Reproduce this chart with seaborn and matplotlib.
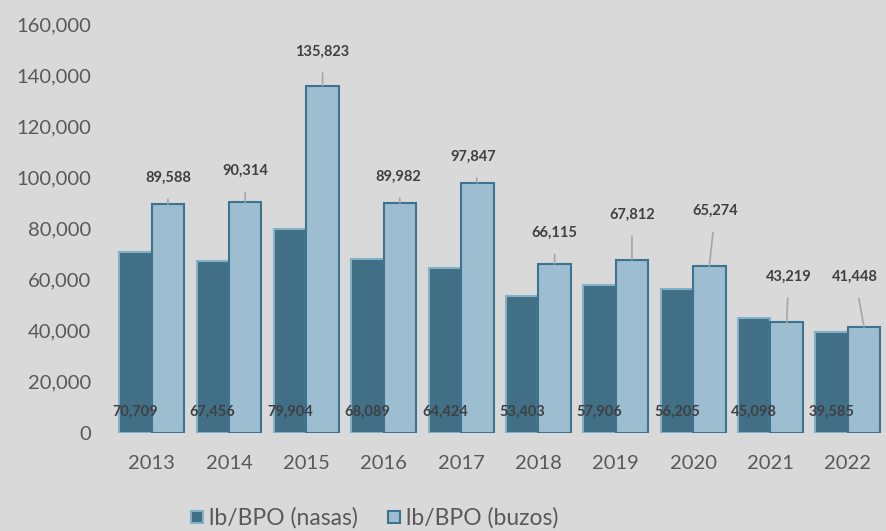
import pandas as pd
import seaborn as sns
import matplotlib.pyplot as plt
from matplotlib.lines import Line2D

years = ['2013', '2014', '2015', '2016', '2017', '2018', '2019', '2020', '2021', '2022']
nasas = [70709, 67456, 79904, 68089, 64424, 53403, 57906, 56205, 45098, 39585]
buzos = [89588, 90314, 135823, 89982, 97847, 66115, 67812, 65274, 43219, 41448]
series_names = ['lb/BPO (nasas)', 'lb/BPO (buzos)']

# label offsets (pixels) for the buzos callouts
buzos_dx = [0, 0, 0, -2, -4, 0, 0, 6, 2, -9]
buzos_dy = [26, 31, 34, 26, 26, 31, 45, 55, 46, 50]

bg = '#d9d9d9'
dark = '#416f86'
light = '#9cbed0'

df = pd.DataFrame({
    'year': years * 2,
    'value': nasas + buzos,
    'serie': [series_names[0]] * len(years) + [series_names[1]] * len(years),
})

sns.set_theme(style='white')
plt.rcParams['font.family'] = ['Lato', 'DejaVu Sans']

fig = plt.figure(figsize=(8.86, 5.31), dpi=100, facecolor=bg)
ax = fig.add_axes([0.1275, 0.1846, 0.873, 0.7704])
ax.set_facecolor(bg)

sns.barplot(data=df, x='year', y='value', hue='serie', hue_order=series_names,
            palette=[dark, light], width=0.84, saturation=1, ax=ax, legend=False)

n = len(years)
for i, p in enumerate(ax.patches[:2 * n]):
    if i < n:
        p.set_edgecolor('#82b0c6')
    else:
        p.set_edgecolor('#3d7391')
    p.set_linewidth(1.5)

# nasas labels near the bottom
for i in range(n):
    p = ax.patches[i]
    cx = p.get_x() + p.get_width() / 2
    ax.annotate(f'{nasas[i]:,}', xy=(cx, 0), xytext=(0, 21), textcoords='offset pixels',
                ha='center', va='center', fontsize=10.5, fontweight='bold', color='#404040')

# buzos labels with leader lines
for i in range(n):
    p = ax.patches[n + i]
    cx = p.get_x() + p.get_width() / 2
    ax.annotate(f'{buzos[i]:,}', xy=(cx, buzos[i]), xytext=(buzos_dx[i], buzos_dy[i]),
                textcoords='offset pixels', ha='center', va='center',
                fontsize=10.5, fontweight='bold', color='#404040',
                arrowprops=dict(arrowstyle='-', color='#a6a6a6', lw=1.2,
                                shrinkA=8, shrinkB=0))

ax.set_ylim(0, 160000)
ax.set_yticks(range(0, 160001, 20000))
ax.set_yticklabels([f'{v:,}' for v in range(0, 160001, 20000)])
ax.set_xlabel('')
ax.set_ylabel('')
ax.tick_params(axis='both', colors='#595959', labelsize=14.5, length=0)
ax.tick_params(axis='y', pad=15.5)
ax.tick_params(axis='x', pad=16)
for s in ax.spines.values():
    s.set_visible(False)

handles = [
    Line2D([], [], marker='s', linestyle='', markersize=8, markerfacecolor=dark,
           markeredgecolor='#82b0c6', markeredgewidth=1.5),
    Line2D([], [], marker='s', linestyle='', markersize=8, markerfacecolor=light,
           markeredgecolor='#3d7391', markeredgewidth=1.5),
]
leg = fig.legend(handles, series_names, loc='center', bbox_to_anchor=(0.421, 0.024),
                 ncol=2, frameon=False, fontsize=16.5, handletextpad=0.1,
                 columnspacing=1.2, handlelength=0.8, borderpad=0)
for t in leg.get_texts():
    t.set_color('#595959')

fig.savefig('out.png', dpi=100, facecolor=bg)
